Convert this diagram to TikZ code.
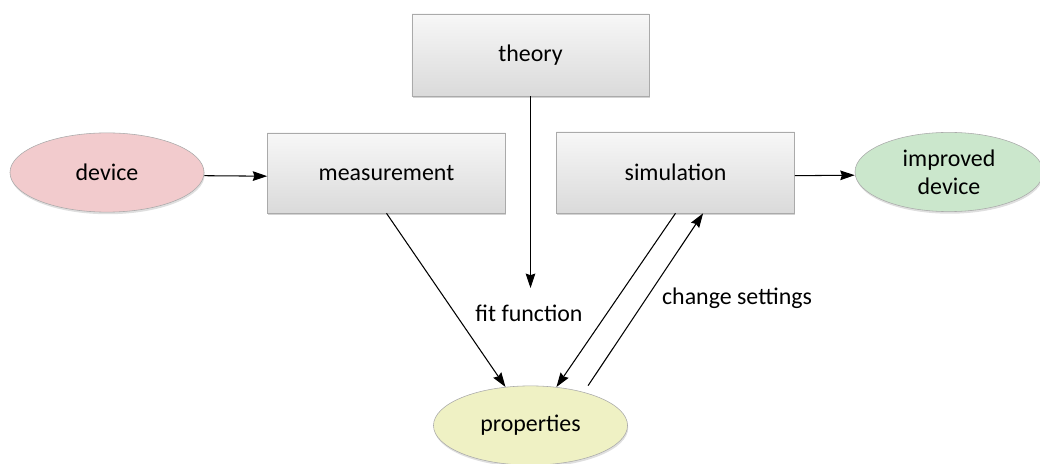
\documentclass[tikz,border=0pt]{standalone}
\usepackage{fontspec}
\setmainfont{Carlito}
\usepackage{xcolor}
\usepackage{tikz}
\usetikzlibrary{shapes.geometric,shadows,arrows.meta}

\definecolor{boxtop}{RGB}{247,247,247}
\definecolor{boxbot}{RGB}{218,218,218}
\definecolor{boxline}{RGB}{170,170,170}
\definecolor{devfill}{RGB}{242,203,205}
\definecolor{impfill}{RGB}{203,231,204}
\definecolor{propfill}{RGB}{239,241,196}

\begin{document}
\begin{tikzpicture}[x=0.025cm, y=-0.025cm]
                \tikzstyle{stage} = [rectangle, minimum width=5.95cm, minimum height=2cm, text centered, draw=boxline, top color=boxtop, bottom color=boxbot, drop shadow={opacity=0.35, shadow xshift=0.5pt, shadow yshift=-1.5pt}, font=\fontsize{17}{20}\selectfont]
                \tikzstyle{thing} = [ellipse, minimum width=4.85cm, minimum height=1.98cm, inner sep=0pt, text centered, align=center, draw=boxline, drop shadow={opacity=0.25, shadow xshift=0.5pt, shadow yshift=-1.5pt}, font=\fontsize{17}{20}\selectfont]
                \tikzstyle{arrow} = [line width=0.75pt,-{Stealth[length=3.6mm,width=2.4mm,inset=0.4mm]}]
                \tikzstyle{note} = [font=\fontsize{17}{20}\selectfont]

                \useasboundingbox (0,0) rectangle (1040,464);

                \node (theory) [stage, minimum width=5.925cm, minimum height=2.05cm] at (530.5,55) {theory};
                \node (measure) [stage] at (386.5,173) {measurement};
                \node (sim) [stage, minimum height=2.025cm] at (675.5,172.5) {simulation};
                \node (device) [thing, fill=devfill] at (107,172.5) {device};
                \node (better) [thing, fill=impfill, minimum width=4.7cm] at (949,172) {improved\\device};
                \node (props) [thing, fill=propfill] at (530.5,425.5) {properties};

                \coordinate (fitend) at (530.5,288);
                \node (fit) [note] at (529,313) {fit function};
                \node (change) [note] at (737,298) {change settings};

                \draw [arrow] ([yshift=-0.08cm]device.east) -- ([yshift=-0.08cm]measure.west);
                \draw [arrow] ([yshift=-0.08cm]sim.east) -- ([yshift=-0.08cm]better.west);
                \draw [arrow] (theory) -- (fitend);
                \draw [arrow] (measure.south) -- (props.123);
                \draw [arrow] (sim.south) -- (props.56);
                \draw [arrow] ([xshift=1.44cm]props.north) -- ([xshift=0.69cm]sim.south);
            \end{tikzpicture}
\end{document}
